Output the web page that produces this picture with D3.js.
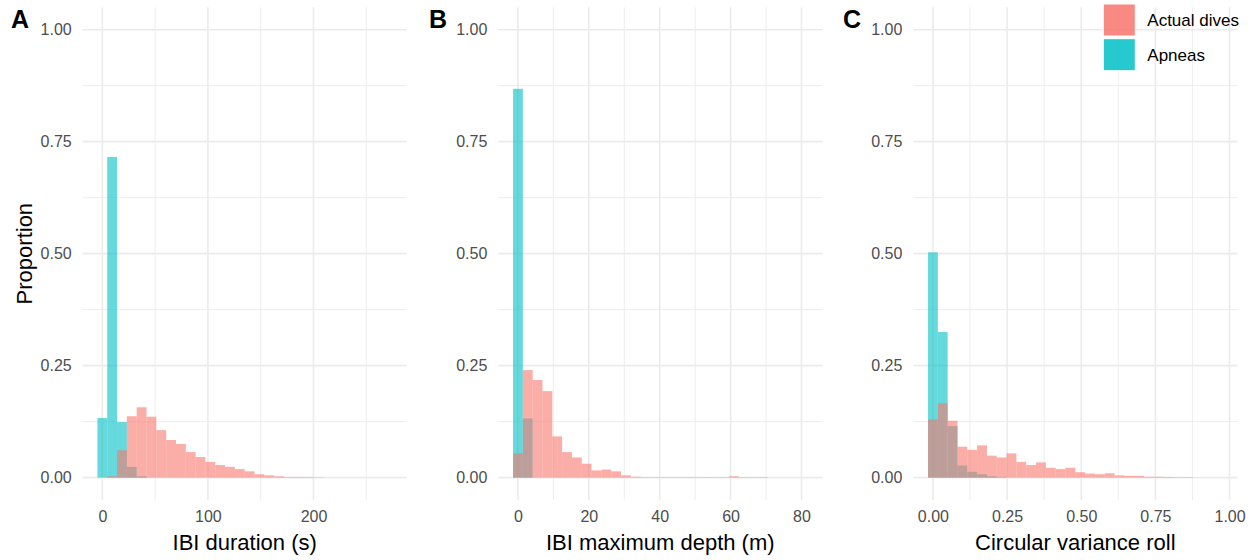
<!DOCTYPE html>
<html>
<head>
<meta charset="utf-8">
<script src="https://cdn.jsdelivr.net/npm/d3@7"></script>
<style>
  html, body { margin: 0; padding: 0; background: #fff; }
  svg { display: block; font-family: "Liberation Sans", Arial, sans-serif; }
</style>
</head>
<body>
<svg id="chart" width="1258" height="560"></svg>
<script>
// Histogram proportions per bin (30 bins, first bin centred on 0)
const groups = ["Actual dives", "Apneas"];
const groupColors = ["#F8766D", "#00BFC4"];

const durationBinWidth = 9.3;
const durationDives = [0, 0.003, 0.061, 0.137, 0.157, 0.136, 0.106, 0.084, 0.075, 0.057,
  0.046, 0.035, 0.028, 0.024, 0.019, 0.014, 0.0075, 0.005, 0.003, 0.0015,
  0.0015, 0.0015, 0.0007, 0, 0, 0, 0, 0, 0, 0];
const durationApneas = [0.133, 0.716, 0.124, 0.024, 0.003, 0, 0, 0, 0, 0,
  0, 0, 0, 0, 0, 0, 0, 0, 0, 0, 0, 0, 0, 0, 0, 0, 0, 0, 0, 0];

const depthBinWidth = 2.77;
const depthDives = [0.054, 0.240, 0.218, 0.193, 0.092, 0.057, 0.045, 0.031, 0.016, 0.018,
  0.014, 0.005, 0.002, 0.001, 0.001, 0.001, 0.001, 0.001, 0.001, 0.001,
  0.001, 0.001, 0.003, 0.001, 0.001, 0.001, 0, 0, 0, 0];
const depthApneas = [0.868, 0.132, 0, 0, 0, 0, 0, 0, 0, 0,
  0, 0, 0, 0, 0, 0, 0, 0, 0, 0, 0, 0, 0, 0, 0, 0, 0, 0, 0, 0];

const rollBinWidth = 0.0331;
const rollDives = [0.130, 0.166, 0.127, 0.069, 0.062, 0.072, 0.049, 0.045, 0.054, 0.035,
  0.028, 0.034, 0.022, 0.019, 0.022, 0.012, 0.009, 0.0075, 0.0097, 0.005,
  0.004, 0.004, 0.002, 0.002, 0.0015, 0.001, 0.001, 0, 0, 0];
const rollApneas = [0.503, 0.325, 0.115, 0.027, 0.013, 0.0075, 0.003, 0.001, 0, 0,
  0, 0, 0, 0, 0, 0, 0, 0, 0, 0, 0, 0, 0, 0, 0, 0, 0, 0, 0, 0];

const panelTags = ["A", "B", "C"];
const xTitles = ["IBI duration (s)", "IBI maximum depth (m)", "Circular variance roll"];
const durationTicks = [0, 100, 200];
const depthTicks = [0, 20, 40, 60, 80];
const rollTicks = [0, 0.25, 0.5, 0.75, 1];
const yTicks = [0, 0.25, 0.5, 0.75, 1];
const yTitle = "Proportion";

const panels = [
  { w: durationBinWidth, dives: durationDives, apneas: durationApneas, ticks: durationTicks, step: 50, fmt: d3.format("d") },
  { w: depthBinWidth, dives: depthDives, apneas: depthApneas, ticks: depthTicks, step: 10, fmt: d3.format("d") },
  { w: rollBinWidth, dives: rollDives, apneas: rollApneas, ticks: rollTicks, step: 0.125, fmt: d3.format(".2f") }
];

// Layout
const panelLeft = [82.7, 498.3, 913.3];
const panelWidth = 324;
const panelTop = 7.3, panelBottom = 500;
const tagLeft = [11, 429, 843];

const svg = d3.select("#chart");
const gridColor = "#EBEBEB";
const textGrey = "#4D4D4D";

const y = d3.scaleLinear().domain([-0.05, 1.05]).range([panelBottom, panelTop]);
const yMinor = d3.range(0.125, 1, 0.25);

panels.forEach((p, i) => {
  const n = p.dives.length;
  const lo = -p.w / 2, hi = (n - 0.5) * p.w;
  const pad = (hi - lo) * 0.05;
  const x = d3.scaleLinear().domain([lo - pad, hi + pad])
    .range([panelLeft[i], panelLeft[i] + panelWidth]);
  const g = svg.append("g");

  // minor grid
  const xMinor = p.ticks.slice(0, -1).map(t => t + p.step)
    .concat([p.ticks[p.ticks.length - 1] + p.step])
    .filter(v => v > x.domain()[0] && v < x.domain()[1] && !p.ticks.includes(v));
  g.selectAll(".xminor").data(xMinor).join("line")
    .attr("x1", d => x(d)).attr("x2", d => x(d))
    .attr("y1", panelTop).attr("y2", panelBottom)
    .attr("stroke", gridColor).attr("stroke-width", 0.9);
  g.selectAll(".yminor").data(yMinor).join("line")
    .attr("x1", panelLeft[i]).attr("x2", panelLeft[i] + panelWidth)
    .attr("y1", d => y(d)).attr("y2", d => y(d))
    .attr("stroke", gridColor).attr("stroke-width", 0.9);
  // major grid
  g.selectAll(".xmajor").data(p.ticks).join("line")
    .attr("x1", d => x(d)).attr("x2", d => x(d))
    .attr("y1", panelTop).attr("y2", panelBottom)
    .attr("stroke", gridColor).attr("stroke-width", 1.6);
  g.selectAll(".ymajor").data(yTicks).join("line")
    .attr("x1", panelLeft[i]).attr("x2", panelLeft[i] + panelWidth)
    .attr("y1", d => y(d)).attr("y2", d => y(d))
    .attr("stroke", gridColor).attr("stroke-width", 1.6);

  // bars: apneas underneath, actual dives on top
  [[p.apneas, groupColors[1]], [p.dives, groupColors[0]]].forEach(([vals, col]) => {
    g.append("g").selectAll("rect")
      .data(vals.map((v, k) => ({ v, k })).filter(d => d.v > 0))
      .join("rect")
      .attr("x", d => x((d.k - 0.5) * p.w))
      .attr("width", d => x((d.k + 0.5) * p.w) - x((d.k - 0.5) * p.w))
      .attr("y", d => y(d.v))
      .attr("height", d => y(0) - y(d.v))
      .attr("fill", col).attr("fill-opacity", 0.6);
  });

  // axes
  const xAxis = g.append("g").attr("transform", `translate(0,${panelBottom})`)
    .call(d3.axisBottom(x).tickValues(p.ticks).tickFormat(p.fmt).tickSize(0).tickPadding(11));
  const yAxis = g.append("g").attr("transform", `translate(${panelLeft[i]},0)`)
    .call(d3.axisLeft(y).tickValues(yTicks).tickFormat(d3.format(".2f")).tickSize(0).tickPadding(11));
  [xAxis, yAxis].forEach(a => {
    a.select(".domain").remove();
    a.selectAll("text").attr("fill", textGrey).style("font-size", "16px")
      .style("font-family", "'Liberation Sans', Arial, sans-serif");
  });

  // axis title
  g.append("text")
    .attr("x", panelLeft[i] + panelWidth / 2).attr("y", 550)
    .attr("text-anchor", "middle").style("font-size", "22px").attr("fill", "#000")
    .text(xTitles[i]);

  // panel tag
  g.append("text")
    .attr("x", tagLeft[i]).attr("y", 28)
    .style("font-size", "25px").style("font-weight", "bold").attr("fill", "#000")
    .text(panelTags[i]);
});

// y title
svg.append("text")
  .attr("transform", `translate(32,${(panelTop + panelBottom) / 2}) rotate(-90)`)
  .attr("text-anchor", "middle").style("font-size", "22px").attr("fill", "#000")
  .text(yTitle);

// legend
const legend = svg.append("g");
groups.forEach((name, k) => {
  const ky = 4 + k * 34.7;
  legend.append("rect")
    .attr("x", 1103.3).attr("y", ky).attr("width", 32).attr("height", 32)
    .attr("fill", groupColors[k]).attr("fill-opacity", 0.85)
    .attr("stroke", "#fff").attr("stroke-width", 1);
  legend.append("text")
    .attr("x", 1147.3).attr("y", ky + 16).attr("dy", "0.35em")
    .style("font-size", "17px").attr("fill", "#000")
    .text(name);
});
</script>
</body>
</html>
